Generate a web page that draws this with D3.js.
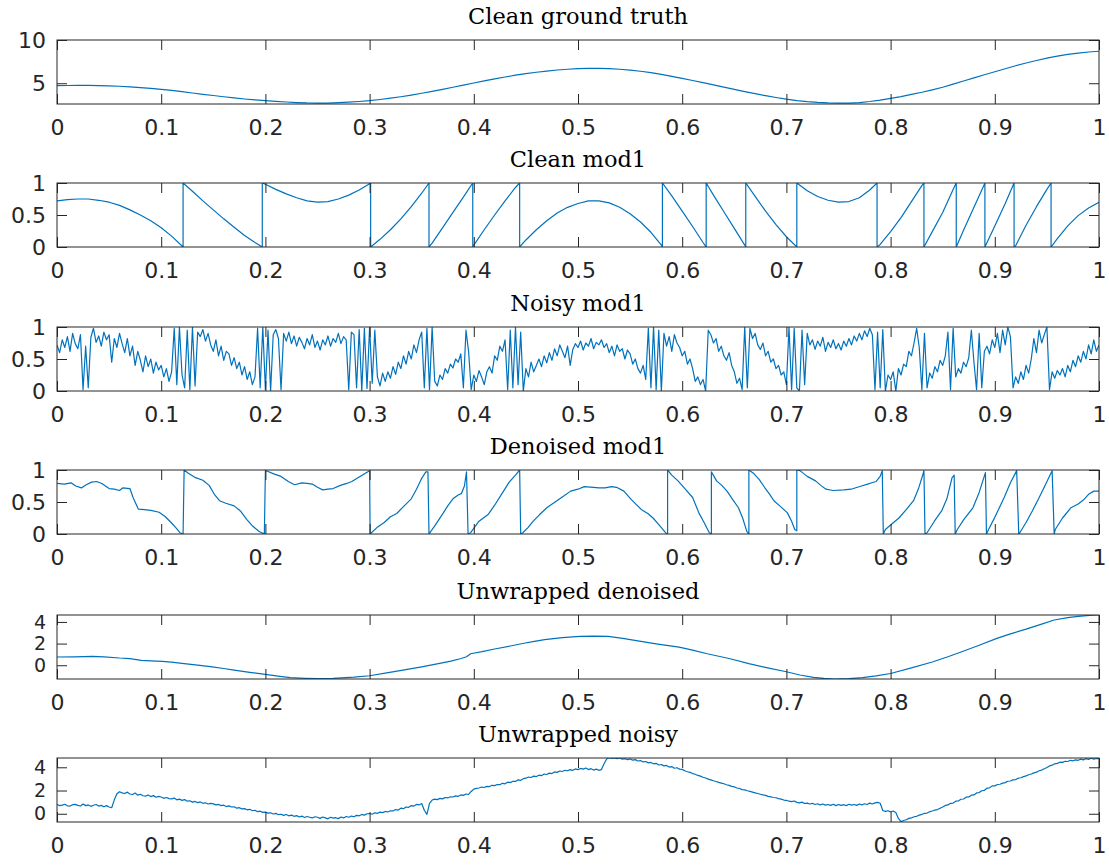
<!DOCTYPE html>
<html>
<head>
<meta charset="utf-8">
<script src="https://cdn.jsdelivr.net/npm/d3@7"></script>
<style>
  body { margin: 0; background: #fff; }
  .tick text { font-family: "DejaVu Sans", sans-serif; font-size: 22px; fill: #262626; }
  .tick line { stroke: #262626; }
</style>
</head>
<body>
<script>
// titulos de cada panel
var titles = ["Clean ground truth", "Clean mod1", "Noisy mod1", "Denoised mod1", "Unwrapped denoised", "Unwrapped noisy"];

// ticks
var xTicks = [0, 0.1, 0.2, 0.3, 0.4, 0.5, 0.6, 0.7, 0.8, 0.9, 1];
var yTicksGt = [5, 10];
var yTicksMod = [0, 0.5, 1];
var yTicksUnwrap = [0, 2, 4];

// limites del eje y
var yLimGt = [2.6, 10];
var yLimMod = [0, 1];
var yLimUnwrapDen = [-1.27, 4.64];
var yLimUnwrapNoisy = [-0.71, 4.8];

// Clean ground truth, muestreado cada 0.01
var groundTruth = [
  4.72, 4.74, 4.75, 4.75, 4.73, 4.70, 4.65, 4.58, 4.50, 4.41,
  4.30, 4.17, 4.02, 3.87, 3.72, 3.58, 3.44, 3.31, 3.18, 3.07,
  2.98, 2.90, 2.83, 2.77, 2.72, 2.70, 2.71, 2.75, 2.81, 2.89,
  2.99, 3.12, 3.27, 3.44, 3.63, 3.84, 4.06, 4.30, 4.54, 4.78,
  5.03, 5.27, 5.50, 5.72, 5.93, 6.11, 6.27, 6.41, 6.53, 6.62,
  6.68, 6.72, 6.72, 6.69, 6.62, 6.52, 6.39, 6.23, 6.03, 5.80,
  5.56, 5.32, 5.07, 4.81, 4.55, 4.29, 4.03, 3.79, 3.56, 3.35,
  3.16, 3.00, 2.88, 2.79, 2.73, 2.70, 2.71, 2.77, 2.89, 3.04,
  3.24, 3.46, 3.71, 3.96, 4.24, 4.54, 4.90, 5.26, 5.62, 5.98,
  6.33, 6.68, 7.02, 7.34, 7.63, 7.90, 8.13, 8.33, 8.49, 8.61,
  8.70
];

// Clean mod1, puntos [x, y] (los saltos van con dos puntos en la misma x)
var cleanMod1 = [
  [0,0.72],[0.01,0.74],[0.02,0.75],[0.03,0.75],[0.04,0.73],[0.05,0.70],[0.06,0.65],[0.07,0.58],[0.08,0.50],[0.09,0.41],
  [0.10,0.30],[0.11,0.17],[0.121,0],[0.121,1],[0.13,0.87],[0.14,0.72],[0.15,0.58],[0.16,0.44],[0.17,0.31],[0.18,0.18],
  [0.19,0.07],[0.197,0],[0.197,1],[0.20,0.98],[0.21,0.90],[0.22,0.83],[0.23,0.77],[0.24,0.72],[0.25,0.70],[0.26,0.71],
  [0.27,0.75],[0.28,0.81],[0.29,0.89],[0.30,0.99],[0.301,1],[0.301,0],[0.31,0.12],[0.32,0.27],[0.33,0.44],[0.34,0.63],
  [0.35,0.84],[0.357,1],[0.357,0],[0.36,0.06],[0.37,0.30],[0.38,0.54],[0.39,0.78],[0.399,1],[0.399,0],[0.40,0.03],
  [0.41,0.27],[0.42,0.50],[0.43,0.72],[0.44,0.93],[0.444,1],[0.444,0],[0.45,0.11],[0.46,0.27],[0.47,0.41],[0.48,0.53],
  [0.49,0.62],[0.50,0.68],[0.51,0.72],[0.52,0.72],[0.53,0.69],[0.54,0.62],[0.55,0.52],[0.56,0.39],[0.57,0.23],[0.58,0.03],
  [0.581,0],[0.581,1],[0.59,0.80],[0.60,0.56],[0.61,0.32],[0.62,0.07],[0.623,0],[0.623,1],[0.63,0.81],[0.64,0.55],
  [0.65,0.29],[0.66,0.03],[0.661,0],[0.661,1],[0.67,0.79],[0.68,0.56],[0.69,0.35],[0.70,0.16],[0.71,0],[0.71,1],
  [0.72,0.88],[0.73,0.79],[0.74,0.73],[0.75,0.70],[0.76,0.71],[0.77,0.77],[0.78,0.89],[0.787,1],[0.787,0],[0.79,0.04],
  [0.80,0.24],[0.81,0.46],[0.82,0.71],[0.83,0.96],[0.832,1],[0.832,0],[0.84,0.24],[0.85,0.54],[0.86,0.90],[0.863,1],
  [0.863,0],[0.87,0.26],[0.88,0.62],[0.89,0.98],[0.8905,1],[0.8905,0],[0.90,0.33],[0.91,0.68],[0.9185,1],[0.9185,0],
  [0.92,0.02],[0.93,0.34],[0.94,0.63],[0.95,0.90],[0.954,1],[0.954,0],[0.96,0.13],[0.97,0.33],[0.98,0.49],[0.99,0.61],
  [1.0,0.70]
];

// Noisy mod1, muestreado cada 0.0025 (una fila = 0.05)
var noisyMod1 = [
  0.72, 0.60, 0.80, 0.68, 0.85, 0.62, 0.90, 0.74, 0.66, 0.88, 0.02, 0.70, 0.05, 0.84, 0.98, 0.76, 0.86, 0.70, 0.92, 0.80,
  0.88, 0.45, 0.82, 0.68, 0.90, 0.74, 0.60, 0.82, 0.55, 0.70, 0.40, 0.62, 0.48, 0.30, 0.55, 0.38, 0.50, 0.28, 0.45, 0.33,
  0.40, 0.22, 0.35, 0.15, 0.30, 0.98, 0.10, 1.00, 0.25, 0.05, 0.95, 0.02, 1.00, 0.08, 0.92, 0.85, 0.96, 0.78, 0.90, 0.72,
  0.62, 0.80, 0.55, 0.70, 0.48, 0.62, 0.58, 0.40, 0.52, 0.35, 0.45, 0.25, 0.38, 0.18, 0.30, 0.10, 0.22, 0.98, 0.05, 1.00,
  0.02, 0.95, 0.00, 0.88, 0.96, 0.82, 0.02, 0.90, 0.78, 0.92, 0.74, 0.86, 0.70, 0.84, 0.76, 0.66, 0.82, 0.72, 0.88, 0.68,
  0.78, 0.64, 0.80, 0.72, 0.86, 0.70, 0.82, 0.76, 0.90, 0.74, 0.85, 0.80, 0.02, 0.92, 0.88, 0.05, 0.96, 0.00, 0.98, 0.04,
  1.00, 0.12, 0.95, 0.22, 0.08, 0.28, 0.15, 0.30, 0.20, 0.38, 0.26, 0.45, 0.35, 0.55, 0.42, 0.62, 0.50, 0.72, 0.60, 0.80,
  0.92, 0.05, 0.98, 0.02, 1.00, 0.15, 0.08, 0.25, 0.18, 0.35, 0.28, 0.42, 0.36, 0.50, 0.45, 0.58, 0.05, 0.95, 0.62, 0.02,
  0.25, 0.15, 0.32, 0.22, 0.10, 0.30, 0.38, 0.28, 0.55, 0.48, 0.70, 0.62, 0.80, 0.02, 0.95, 0.05, 1.00, 0.10, 0.92, 0.00,
  0.35, 0.22, 0.45, 0.30, 0.40, 0.50, 0.38, 0.55, 0.44, 0.60, 0.48, 0.66, 0.55, 0.72, 0.62, 0.52, 0.70, 0.40, 0.65, 0.74,
  0.68, 0.78, 0.64, 0.75, 0.70, 0.82, 0.66, 0.76, 0.72, 0.80, 0.68, 0.74, 0.60, 0.70, 0.55, 0.72, 0.62, 0.66, 0.50, 0.64,
  0.58, 0.42, 0.50, 0.35, 0.28, 0.40, 0.18, 0.98, 0.05, 1.00, 0.02, 0.95, 0.00, 0.90, 0.70, 0.85, 0.62, 0.88, 0.75, 0.68,
  0.55, 0.62, 0.42, 0.50, 0.35, 0.15, 0.22, 0.10, 0.18, 0.00, 0.95, 0.88, 0.75, 0.82, 0.62, 0.70, 0.55, 0.48, 0.60, 0.40,
  0.30, 0.12, 0.20, 0.02, 1.00, 0.05, 0.98, 0.82, 0.90, 0.72, 0.65, 0.75, 0.55, 0.62, 0.45, 0.50, 0.35, 0.40, 0.25, 0.30,
  0.10, 1.00, 0.02, 0.98, 0.05, 0.00, 0.95, 0.10, 0.90, 0.72, 0.80, 0.65, 0.78, 0.70, 0.84, 0.62, 0.76, 0.68, 0.80, 0.66,
  0.74, 0.64, 0.78, 0.70, 0.82, 0.72, 0.86, 0.78, 0.90, 0.80, 0.94, 0.85, 0.98, 0.88, 0.02, 0.92, 0.05, 0.96, 0.00, 0.25,
  0.18, 0.30, 0.00, 0.35, 0.25, 0.42, 0.38, 0.62, 0.55, 0.75, 0.98, 0.68, 0.02, 0.90, 0.05, 0.28, 0.20, 0.38, 0.30, 0.48,
  0.40, 0.55, 0.92, 0.02, 0.98, 0.22, 0.35, 0.28, 0.45, 0.38, 0.52, 0.95, 0.45, 0.02, 0.90, 0.05, 0.62, 0.70, 0.58, 0.80,
  0.68, 0.90, 0.60, 0.95, 0.72, 1.00, 0.85, 0.05, 0.22, 0.12, 0.30, 0.18, 0.40, 0.28, 0.50, 0.82, 0.60, 0.95, 0.75, 0.88,
  1.00, 0.02, 0.30, 0.20, 0.32, 0.25, 0.35, 0.22, 0.40, 0.30, 0.48, 0.38, 0.55, 0.45, 0.62, 0.50, 0.72, 0.58, 0.80, 0.62,
  0.72
];

// Denoised mod1, puntos [x, y]
var denoisedMod1 = [
  [0,0.79],[0.007,0.78],[0.0135,0.80],[0.018,0.75],[0.0234,0.72],[0.028,0.77],[0.0333,0.81],[0.038,0.82],[0.043,0.79],[0.05,0.71],
  [0.055,0.70],[0.06,0.68],[0.063,0.72],[0.07,0.71],[0.073,0.57],[0.078,0.39],[0.084,0.38],[0.09,0.37],[0.098,0.34],[0.104,0.27],
  [0.1095,0.18],[0.114,0.10],[0.118,0.02],[0.121,0],[0.122,1],[0.126,0.95],[0.133,0.88],[0.14,0.84],[0.146,0.76],[0.151,0.62],
  [0.156,0.52],[0.162,0.48],[0.17,0.44],[0.176,0.36],[0.182,0.23],[0.188,0.12],[0.194,0.04],[0.199,0],[0.2,0.99],[0.202,0.98],
  [0.208,0.94],[0.215,0.90],[0.222,0.82],[0.228,0.77],[0.235,0.80],[0.24,0.79],[0.245,0.78],[0.25,0.73],[0.255,0.69],[0.26,0.70],
  [0.265,0.71],[0.272,0.76],[0.278,0.79],[0.283,0.82],[0.288,0.87],[0.294,0.93],[0.3,0.99],[0.3005,0],[0.307,0.10],[0.314,0.18],
  [0.32,0.27],[0.326,0.32],[0.332,0.42],[0.34,0.55],[0.345,0.70],[0.35,0.87],[0.354,0.97],[0.356,0.97],[0.357,0],[0.363,0.14],
  [0.37,0.31],[0.375,0.44],[0.38,0.55],[0.385,0.61],[0.388,0.63],[0.391,0.75],[0.393,0.97],[0.3945,0],[0.397,0.02],[0.405,0.20],
  [0.414,0.31],[0.42,0.45],[0.427,0.63],[0.434,0.81],[0.44,0.92],[0.444,1.0],[0.445,0],[0.447,0.02],[0.452,0.10],[0.457,0.20],
  [0.463,0.30],[0.47,0.41],[0.478,0.50],[0.487,0.60],[0.493,0.67],[0.5,0.70],[0.506,0.74],[0.515,0.73],[0.52,0.72],[0.526,0.72],
  [0.532,0.74],[0.537,0.73],[0.544,0.67],[0.551,0.54],[0.556,0.46],[0.561,0.38],[0.567,0.32],[0.572,0.25],[0.578,0.14],[0.584,0.02],
  [0.586,0],[0.586,1.0],[0.59,0.92],[0.596,0.83],[0.603,0.70],[0.61,0.57],[0.616,0.33],[0.621,0.18],[0.626,0.02],[0.628,0],
  [0.628,0.97],[0.633,0.83],[0.638,0.76],[0.643,0.67],[0.648,0.55],[0.654,0.41],[0.658,0.25],[0.662,0.04],[0.664,0],[0.664,1.0],
  [0.669,0.94],[0.674,0.85],[0.679,0.73],[0.684,0.62],[0.688,0.52],[0.695,0.42],[0.701,0.33],[0.705,0.20],[0.708,0.07],[0.71,0.05],
  [0.71,1.0],[0.713,0.99],[0.72,0.90],[0.728,0.83],[0.733,0.76],[0.738,0.70],[0.745,0.68],[0.755,0.69],[0.762,0.70],[0.772,0.75],
  [0.778,0.78],[0.782,0.80],[0.786,0.82],[0.79,0.90],[0.792,0.99],[0.793,0],[0.795,0.07],[0.80,0.14],[0.808,0.25],[0.815,0.38],
  [0.822,0.52],[0.827,0.72],[0.831,0.93],[0.832,0.99],[0.833,0],[0.835,0.02],[0.842,0.20],[0.849,0.36],[0.854,0.55],[0.859,0.88],
  [0.861,0.92],[0.862,0],[0.864,0.07],[0.87,0.22],[0.879,0.41],[0.885,0.65],[0.891,0.96],[0.892,0],[0.894,0.07],[0.9,0.26],
  [0.909,0.57],[0.915,0.80],[0.921,0.99],[0.923,0],[0.924,0.02],[0.93,0.18],[0.936,0.36],[0.942,0.55],[0.948,0.75],[0.955,0.99],
  [0.957,0],[0.958,0.07],[0.965,0.25],[0.973,0.41],[0.98,0.47],[0.985,0.53],[0.99,0.62],[0.995,0.67],[1.0,0.67]
];

// Unwrapped denoised, puntos [x, y]
var unwrappedDenoised = [
  [0,0.76],[0.017,0.78],[0.034,0.82],[0.045,0.78],[0.06,0.67],[0.07,0.62],[0.081,0.45],[0.09,0.40],[0.101,0.36],[0.11,0.28],
  [0.122,0.15],[0.135,0.02],[0.149,-0.15],[0.16,-0.30],[0.17,-0.45],[0.185,-0.65],[0.2,-0.85],[0.212,-1.0],[0.224,-1.15],[0.238,-1.21],
  [0.251,-1.24],[0.265,-1.22],[0.285,-1.10],[0.3,-0.97],[0.315,-0.72],[0.332,-0.45],[0.35,-0.15],[0.366,0.15],[0.378,0.38],[0.387,0.60],
  [0.393,0.78],[0.397,1.06],[0.408,1.25],[0.42,1.50],[0.435,1.78],[0.448,2.03],[0.458,2.20],[0.468,2.36],[0.485,2.55],[0.502,2.67],
  [0.515,2.69],[0.529,2.67],[0.543,2.48],[0.556,2.27],[0.575,1.98],[0.597,1.67],[0.61,1.40],[0.624,1.06],[0.645,0.62],[0.664,0.15],
  [0.682,-0.24],[0.7,-0.60],[0.713,-0.90],[0.726,-1.12],[0.736,-1.22],[0.746,-1.27],[0.76,-1.24],[0.773,-1.15],[0.786,-0.98],[0.8,-0.76],
  [0.82,-0.25],[0.84,0.30],[0.855,0.78],[0.867,1.20],[0.885,1.85],[0.902,2.48],[0.915,2.90],[0.93,3.33],[0.945,3.80],[0.957,4.18],
  [0.97,4.40],[0.98,4.52],[0.991,4.60],[1.0,4.64]
];

// Unwrapped noisy, muestreado cada 0.0025 (una fila = 0.05)
var unwrappedNoisy = [
  0.80, 0.70, 0.74, 0.82, 0.68, 0.66, 0.78, 0.81, 0.72, 0.67, 0.84, 0.70, 0.76, 0.64, 0.73, 0.80, 0.66, 0.72, 0.60, 0.70,
  0.58, 0.52, 1.20, 1.72, 1.90, 1.80, 1.74, 1.86, 1.70, 1.66, 1.78, 1.60, 1.68, 1.55, 1.52, 1.62, 1.48, 1.56, 1.42, 1.50,
  1.44, 1.33, 1.40, 1.30, 1.28, 1.36, 1.20, 1.26, 1.15, 1.22, 1.08, 1.12, 1.00, 1.06, 0.96, 1.02, 0.90, 0.95, 0.84, 0.90,
  0.85, 0.76, 0.80, 0.70, 0.74, 0.62, 0.68, 0.58, 0.60, 0.48, 0.52, 0.42, 0.44, 0.34, 0.38, 0.26, 0.30, 0.18, 0.22, 0.12,
  0.14, 0.05, 0.08, -0.02, 0.03, -0.08, -0.04, -0.14, -0.06, -0.18, -0.12, -0.22, -0.16, -0.28, -0.20, -0.32, -0.24, -0.30, -0.36, -0.26,
  -0.30, -0.40, -0.28, -0.36, -0.44, -0.30, -0.38, -0.34, -0.42, -0.28, -0.36, -0.24, -0.30, -0.20, -0.26, -0.14, -0.18, -0.06, -0.12, 0.00,
  0.02, -0.04, 0.08, 0.04, 0.14, 0.10, 0.20, 0.15, 0.26, 0.24, 0.36, 0.32, 0.48, 0.44, 0.58, 0.55, 0.70, 0.66, 0.80, 0.76,
  0.88, 0.30, -0.05, 0.90, 1.18, 1.26, 1.22, 1.32, 1.28, 1.40, 1.36, 1.46, 1.44, 1.54, 1.50, 1.62, 1.58, 1.70, 1.66, 1.92,
  2.12, 2.18, 2.22, 2.30, 2.26, 2.36, 2.34, 2.45, 2.42, 2.52, 2.50, 2.62, 2.58, 2.72, 2.68, 2.80, 2.78, 2.92, 2.88, 3.02,
  3.06, 3.16, 3.12, 3.24, 3.20, 3.32, 3.28, 3.42, 3.38, 3.50, 3.46, 3.60, 3.56, 3.68, 3.64, 3.74, 3.70, 3.80, 3.74, 3.86,
  3.80, 3.90, 3.84, 3.94, 3.80, 3.88, 3.76, 3.84, 3.74, 3.80, 4.30, 4.72, 4.82, 4.76, 4.80, 4.74, 4.80, 4.70, 4.74, 4.66,
  4.72, 4.62, 4.66, 4.54, 4.58, 4.46, 4.50, 4.38, 4.42, 4.30, 4.34, 4.20, 4.24, 4.12, 4.16, 4.02, 4.06, 3.92, 3.96, 3.84,
  3.82, 3.70, 3.62, 3.56, 3.46, 3.40, 3.30, 3.24, 3.14, 3.08, 2.98, 2.92, 2.84, 2.78, 2.70, 2.64, 2.58, 2.50, 2.44, 2.36,
  2.32, 2.22, 2.18, 2.08, 2.06, 1.98, 1.92, 1.86, 1.80, 1.74, 1.68, 1.62, 1.58, 1.50, 1.46, 1.40, 1.38, 1.30, 1.26, 1.18,
  1.16, 1.08, 1.04, 1.10, 0.98, 0.94, 1.00, 0.88, 0.92, 0.84, 0.90, 0.80, 0.86, 0.76, 0.84, 0.74, 0.80, 0.72, 0.82, 0.70,
  0.80, 0.72, 0.78, 0.70, 0.82, 0.74, 0.80, 0.72, 0.84, 0.76, 0.86, 0.80, 0.92, 0.84, 0.94, 0.98, 0.90, 0.28, 0.20, 0.26,
  0.16, 0.24, 0.10, -0.40, -0.68, -0.58, -0.52, -0.40, -0.36, -0.26, -0.22, -0.12, -0.06, 0.04, 0.06, 0.18, 0.24, 0.32, 0.36, 0.48,
  0.58, 0.72, 0.76, 0.90, 0.92, 1.08, 1.10, 1.25, 1.27, 1.43, 1.45, 1.60, 1.62, 1.79, 1.82, 1.98, 2.02, 2.20, 2.23, 2.40,
  2.40, 2.52, 2.54, 2.64, 2.68, 2.80, 2.82, 2.92, 2.94, 3.06, 3.10, 3.20, 3.26, 3.36, 3.42, 3.52, 3.58, 3.70, 3.76, 3.88,
  3.98, 4.12, 4.18, 4.30, 4.34, 4.44, 4.42, 4.52, 4.50, 4.60, 4.56, 4.64, 4.60, 4.70, 4.64, 4.74, 4.68, 4.78, 4.70, 4.76,
  4.74
];

// pasar las series muestreadas a puntos [x, y]
function sampled(values, step) {
  return values.map(function(v, i) { return [i * step, v]; });
}

var panels = [
  { title: titles[0], top: 40,  domain: yLimGt,          ticks: yTicksGt,     labelSize: 22, data: sampled(groundTruth, 0.01) },
  { title: titles[1], top: 183, domain: yLimMod,         ticks: yTicksMod,    labelSize: 22, data: cleanMod1 },
  { title: titles[2], top: 327, domain: yLimMod,         ticks: yTicksMod,    labelSize: 22, data: sampled(noisyMod1, 0.0025) },
  { title: titles[3], top: 470, domain: yLimMod,         ticks: yTicksMod,    labelSize: 22, data: denoisedMod1 },
  { title: titles[4], top: 615, domain: yLimUnwrapDen,   ticks: yTicksUnwrap, labelSize: 19, data: unwrappedDenoised },
  { title: titles[5], top: 758, domain: yLimUnwrapNoisy, ticks: yTicksUnwrap, labelSize: 19, data: sampled(unwrappedNoisy, 0.0025) }
];

var width = 1109, height = 867;
var left = 57, right = 1099, panelHeight = 64;
var axisColor = "#262626";

var svg = d3.select("body")
  .append("svg")
  .attr("width", width)
  .attr("height", height);

var xScale = d3.scaleLinear().domain([0, 1]).range([left, right]);

panels.forEach(function(p, i) {
  var bottom = p.top + panelHeight;
  var yScale = d3.scaleLinear().domain(p.domain).range([bottom, p.top]);
  var g = svg.append("g");

  // recorte para que la linea no salga de la caja
  g.append("clipPath").attr("id", "clip" + i)
    .append("rect")
    .attr("x", left).attr("y", p.top)
    .attr("width", right - left).attr("height", panelHeight);

  var line = d3.line().x(d => xScale(d[0])).y(d => yScale(d[1]));

  g.append("path")
    .datum(p.data)
    .attr("clip-path", "url(#clip" + i + ")")
    .attr("fill", "none")
    .attr("stroke", "#0072BD")
    .attr("stroke-width", 1.2)
    .attr("stroke-linejoin", "round")
    .attr("d", line);

  // ejes: ticks hacia dentro, etiquetas solo abajo e izquierda
  var axB = g.append("g").attr("transform", "translate(0," + bottom + ")")
    .call(d3.axisBottom(xScale).tickValues(xTicks).tickSizeInner(-10).tickSizeOuter(0).tickPadding(15).tickFormat(d3.format("")));
  var axT = g.append("g").attr("transform", "translate(0," + p.top + ")")
    .call(d3.axisTop(xScale).tickValues(xTicks).tickSizeInner(-10).tickSizeOuter(0).tickFormat(""));
  var axL = g.append("g").attr("transform", "translate(" + left + ",0)")
    .call(d3.axisLeft(yScale).tickValues(p.ticks).tickSizeInner(-10).tickSizeOuter(0).tickPadding(11).tickFormat(d3.format("")));
  var axR = g.append("g").attr("transform", "translate(" + right + ",0)")
    .call(d3.axisRight(yScale).tickValues(p.ticks).tickSizeInner(-10).tickSizeOuter(0).tickFormat(""));

  [axB, axT, axL, axR].forEach(function(a) { a.select(".domain").remove(); });
  axB.selectAll("text").attr("dy", "0.71em");
  axL.selectAll("text").style("font-size", p.labelSize + "px");

  // caja
  g.append("rect")
    .attr("x", left).attr("y", p.top)
    .attr("width", right - left).attr("height", panelHeight)
    .attr("fill", "none")
    .attr("stroke", axisColor)
    .attr("stroke-width", 1);

  // titulo
  g.append("text")
    .attr("x", (left + right) / 2)
    .attr("y", p.top - 16)
    .attr("text-anchor", "middle")
    .attr("font-family", "DejaVu Serif, serif")
    .attr("font-size", 22.5)
    .attr("fill", "#000")
    .text(p.title);
});
</script>
</body>
</html>
